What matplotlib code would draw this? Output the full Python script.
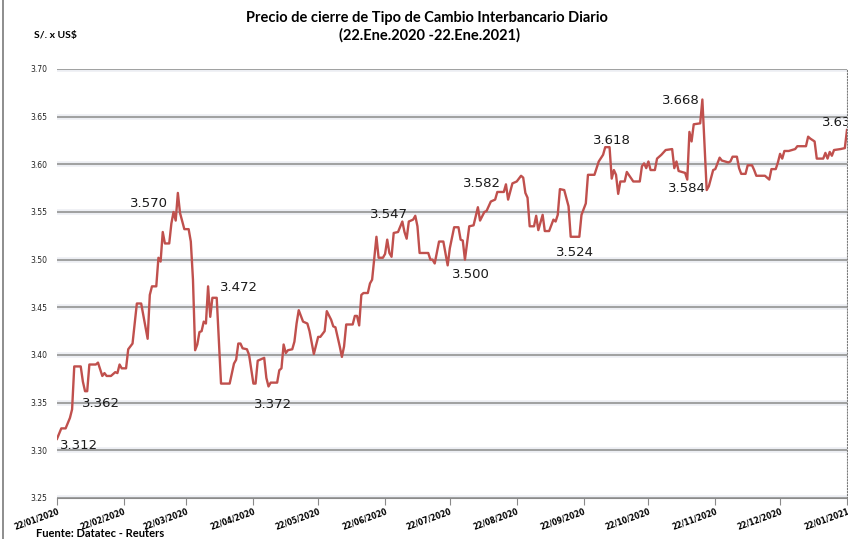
import matplotlib
matplotlib.use("Agg")
import matplotlib.pyplot as plt
import matplotlib.dates as mdates
import matplotlib.transforms as mtransforms
from matplotlib.lines import Line2D
import pandas as pd

# dias desde el 22/01/2020 y precio de cierre
dias = [0, 2, 4, 6, 7, 8, 11, 12, 13, 14, 15, 18, 19, 21, 22, 23, 25, 27, 28, 29,
        30, 32, 33, 35, 37, 39, 42, 43, 44, 46, 47, 48, 49, 50, 52, 53, 54, 55, 56, 57,
        59, 61, 62, 63, 64, 65, 66, 67, 68, 69, 70, 71, 72, 74, 76, 80, 82, 83, 84, 85,
        86, 88, 89, 91, 92, 93, 95, 96, 97, 98, 99, 102, 103, 104, 105, 106, 107, 109, 110, 111,
        112, 114, 116, 117, 119, 121, 122, 124, 125, 127, 128, 129, 131, 132, 133, 134, 137, 138, 139, 140,
        141, 142, 144, 145, 146, 148, 149, 151, 152, 153, 154, 155, 156, 158, 160, 161, 162, 163, 165, 166,
        167, 168, 172, 173, 174, 175, 177, 179, 181, 182, 184, 186, 187, 188, 189, 191, 193, 195, 196, 198,
        199, 201, 203, 204, 207, 208, 209, 211, 213, 215, 216, 217, 218, 219, 221, 222, 223, 225, 226, 228,
        230, 231, 232, 233, 235, 237, 238, 242, 243, 245, 246, 249, 251, 253, 254, 256, 257, 258, 259, 260,
        261, 263, 264, 267, 270, 271, 272, 273, 274, 275, 277, 278, 280, 282, 285, 286, 287, 288, 291, 292,
        293, 294, 295, 298, 299, 300, 301, 302, 304, 305, 307, 308, 311, 312, 313, 315, 316, 317, 319, 320,
        322, 323, 324, 328, 330, 331, 333, 334, 335, 336, 337, 339, 342, 343, 347, 348, 349, 351, 352, 355,
        356, 357, 358, 359, 360, 363, 365, 366]
precio = [3.312, 3.323, 3.323, 3.334, 3.343, 3.388, 3.388, 3.372, 3.362, 3.362, 3.390, 3.390, 3.392, 3.378, 3.381, 3.378, 3.378, 3.382, 3.381, 3.390,
          3.386, 3.386, 3.406, 3.412, 3.454, 3.454, 3.417, 3.463, 3.472, 3.472, 3.502, 3.498, 3.529, 3.517, 3.517, 3.538, 3.550, 3.541, 3.570, 3.549,
          3.532, 3.532, 3.519, 3.479, 3.405, 3.411, 3.424, 3.425, 3.435, 3.433, 3.472, 3.440, 3.460, 3.460, 3.370, 3.370, 3.391, 3.395, 3.412, 3.412,
          3.407, 3.406, 3.400, 3.370, 3.370, 3.394, 3.396, 3.397, 3.376, 3.367, 3.371, 3.371, 3.384, 3.386, 3.411, 3.402, 3.405, 3.406, 3.414, 3.433,
          3.447, 3.435, 3.433, 3.425, 3.401, 3.419, 3.419, 3.425, 3.446, 3.437, 3.430, 3.429, 3.409, 3.398, 3.409, 3.432, 3.432, 3.441, 3.441, 3.431,
          3.463, 3.465, 3.465, 3.475, 3.479, 3.524, 3.502, 3.502, 3.506, 3.521, 3.507, 3.503, 3.528, 3.529, 3.540, 3.529, 3.522, 3.540, 3.542, 3.546,
          3.535, 3.507, 3.507, 3.500, 3.500, 3.496, 3.519, 3.519, 3.494, 3.512, 3.534, 3.534, 3.521, 3.520, 3.500, 3.535, 3.536, 3.555, 3.541, 3.550,
          3.551, 3.561, 3.563, 3.571, 3.571, 3.579, 3.563, 3.580, 3.582, 3.588, 3.586, 3.570, 3.565, 3.535, 3.535, 3.546, 3.531, 3.547, 3.530, 3.530,
          3.542, 3.540, 3.547, 3.574, 3.573, 3.556, 3.524, 3.524, 3.547, 3.559, 3.589, 3.589, 3.603, 3.610, 3.618, 3.618, 3.585, 3.594, 3.589, 3.569,
          3.582, 3.582, 3.592, 3.582, 3.582, 3.598, 3.601, 3.596, 3.603, 3.594, 3.594, 3.606, 3.610, 3.615, 3.616, 3.596, 3.603, 3.593, 3.591, 3.584,
          3.634, 3.624, 3.642, 3.643, 3.668, 3.620, 3.573, 3.577, 3.594, 3.595, 3.607, 3.604, 3.602, 3.603, 3.608, 3.608, 3.596, 3.590, 3.590, 3.599,
          3.599, 3.594, 3.588, 3.588, 3.584, 3.595, 3.595, 3.602, 3.611, 3.606, 3.614, 3.614, 3.616, 3.619, 3.619, 3.629, 3.627, 3.624, 3.606, 3.606,
          3.612, 3.606, 3.613, 3.609, 3.615, 3.616, 3.617, 3.636]

# etiquetas de valores (texto, dia, valor donde va el texto)
etiquetas = ["3.312", "3.362", "3.570", "3.472", "3.372", "3.547", "3.500",
             "3.582", "3.524", "3.618", "3.668", "3.584", "3.636"]
etq_dia = [10.2, 20.4, 42.7, 84.5, 100.2, 154, 191.6, 196.8, 240, 257, 289, 292, 363.3]
etq_val = [3.305, 3.349, 3.5585, 3.4704, 3.3478, 3.547, 3.484, 3.5795, 3.508, 3.6245, 3.6665, 3.5742, 3.6434]

yticks = [3.25, 3.30, 3.35, 3.40, 3.45, 3.50, 3.55, 3.60, 3.65, 3.70]

inicio = pd.Timestamp("2020-01-22")
fechas = inicio + pd.to_timedelta(dias, unit="D")
meses = pd.date_range("2020-01-01", "2021-01-01", freq="MS") + pd.Timedelta(days=21)

titulo_font = ["Lato", "DejaVu Sans"]

fig = plt.figure(figsize=(8.48, 5.39), dpi=100)
ax = fig.add_axes([0.0672, 0.0761, 0.9316, 0.7959])

for v in yticks:
    ax.axhline(v, color="#eceef3", lw=4.0, zorder=0)
    ax.axhline(v, color="#9a9a9a", lw=1.3, zorder=1)

ax.plot(fechas, precio, color="#C0504D", lw=1.7, zorder=3)

for t, d, v in zip(etiquetas, etq_dia, etq_val):
    txt = ax.text(inicio + pd.Timedelta(days=d), v, t, ha="center", va="center",
                  fontsize=9.5, color="#1a1a1a", zorder=4)
    txt.set_clip_on(True)

ax.set_ylim(3.25, 3.70)
ax.set_xlim(inicio, pd.Timestamp("2021-01-22"))
ax.set_yticks(yticks)
ax.set_yticklabels([f"{v:.2f}" for v in yticks], fontsize=5.5, color="#222222")
ax.set_xticks(meses)
ax.xaxis.set_major_formatter(mdates.DateFormatter("%d/%m/%Y"))
desplaza = mtransforms.ScaledTranslation(1.5 / 100, -3 / 100, fig.dpi_scale_trans)
for lab in ax.get_xticklabels():
    lab.set_rotation(20)
    lab.set_ha("right")
    lab.set_va("top")
    lab.set_rotation_mode("anchor")
    lab.set_fontsize(5.5)
    lab.set_fontweight("bold")
    lab.set_transform(lab.get_transform() + desplaza)
ax.tick_params(axis="y", length=0, pad=7)
ax.tick_params(axis="x", length=5, color="#8a8a8a", direction="out", pad=1)

ax.spines["left"].set_visible(False)
ax.spines["top"].set_visible(False)
ax.spines["bottom"].set_color("#8a8a8a")
ax.spines["right"].set_linestyle(":")
ax.spines["right"].set_color("#7a7a7a")
ax.spines["right"].set_linewidth(0.8)

fig.text(0.503, 0.966, "Precio de cierre de Tipo de Cambio Interbancario Diario",
         ha="center", va="center", fontsize=10.5, fontweight="bold", family=titulo_font)
fig.text(0.506, 0.935, "(22.Ene.2020 -22.Ene.2021)",
         ha="center", va="center", fontsize=10.5, fontweight="bold", family=titulo_font)
fig.text(0.040, 0.935, "S/. x US$", ha="left", va="center", fontsize=7.5,
         fontweight="bold", family=titulo_font)
fig.text(0.042, 0.011, "Fuente: Datatec - Reuters", ha="left", va="center",
         fontsize=8, fontweight="bold", family=titulo_font)

fig.add_artist(Line2D([0.003, 0.003], [0, 1], color="#7a7a7a", lw=1.2))

fig.savefig("out.png", dpi=100)
